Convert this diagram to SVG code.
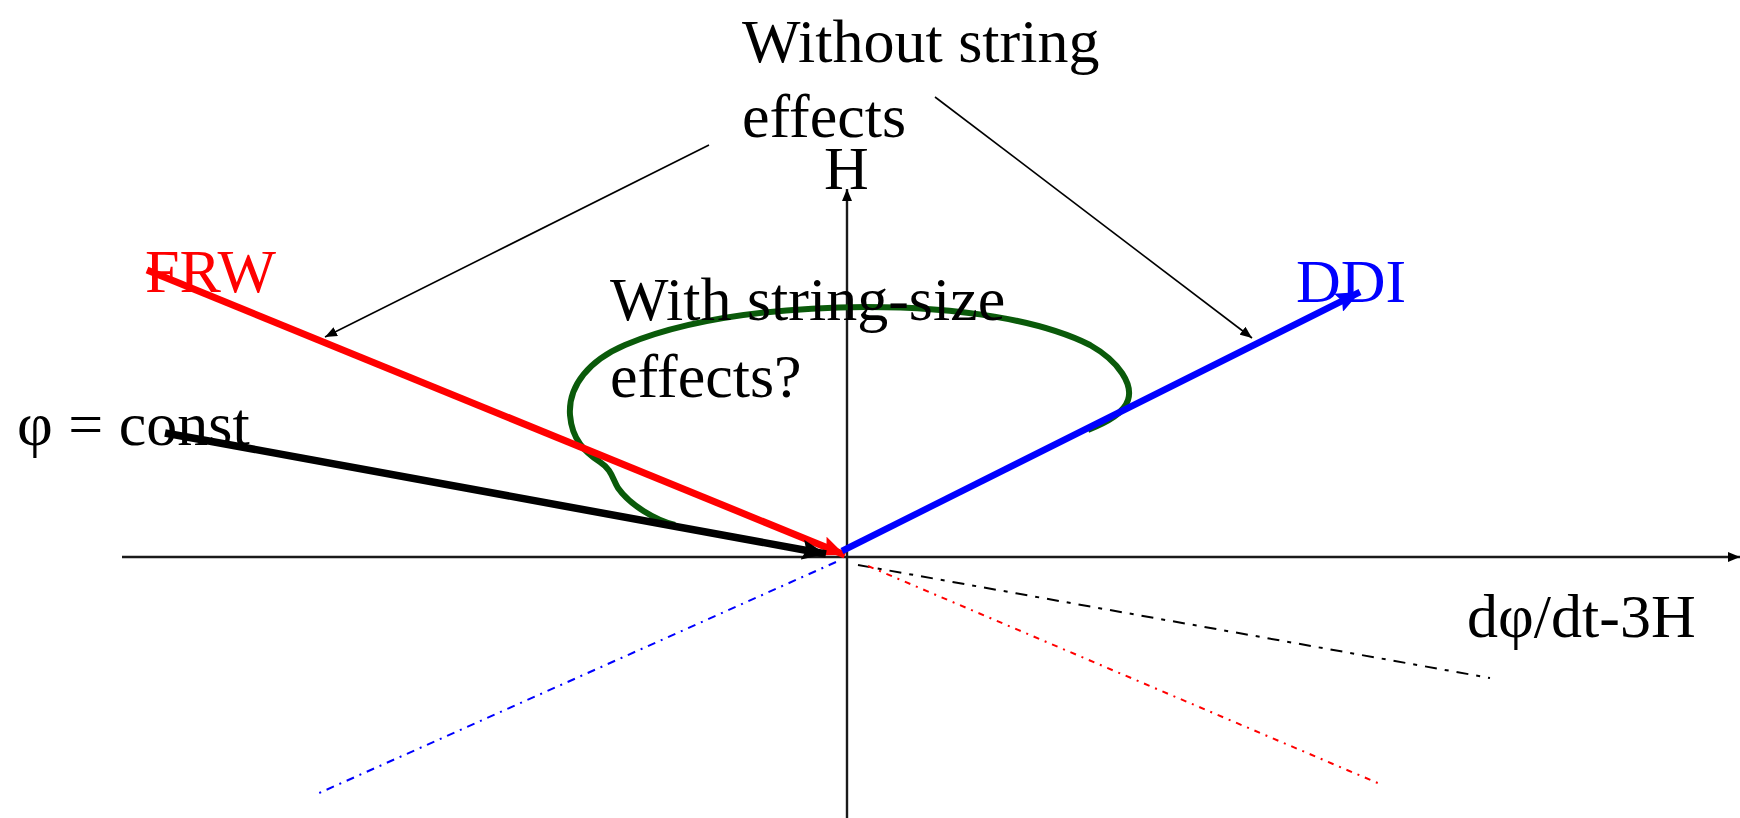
<svg xmlns="http://www.w3.org/2000/svg" width="1740" height="818" viewBox="0 0 1740 818">
<style>
text{font-family:"Liberation Serif","Times New Roman",serif;font-size:62px;fill:#000}
.red{fill:#ff0000}
.blue{fill:#0000ff}
.axis{stroke:#1a1a1a;stroke-width:2.4;fill:none}
.thin{stroke:#000;stroke-width:1.6;fill:none}
</style>
<defs>
<marker id="ah" viewBox="0 0 12 10" refX="12" refY="5" markerWidth="12" markerHeight="10" markerUnits="userSpaceOnUse" orient="auto"><path d="M0,0 L12,5 L0,10 Z" fill="#000"/></marker>
<marker id="ahR" viewBox="0 0 24 20" refX="24" refY="10" markerWidth="24" markerHeight="20" markerUnits="userSpaceOnUse" orient="auto"><path d="M0,0 L24,10 L0,20 L4,10 Z" fill="#ff0000"/></marker>
<marker id="ahK" viewBox="0 0 24 20" refX="24" refY="10" markerWidth="24" markerHeight="20" markerUnits="userSpaceOnUse" orient="auto"><path d="M0,0 L24,10 L0,20 L4,10 Z" fill="#000"/></marker>
<marker id="ahB" viewBox="0 0 24 20" refX="24" refY="10" markerWidth="24" markerHeight="20" markerUnits="userSpaceOnUse" orient="auto"><path d="M0,0 L24,10 L0,20 L4,10 Z" fill="#0000ff"/></marker>
</defs>
<g id="connectors">
<line class="axis" x1="122" y1="557" x2="1740" y2="557" marker-end="url(#ah)"/>
<line class="axis" x1="847" y1="818" x2="847" y2="189" marker-end="url(#ah)"/>
<line x1="836" y1="562" x2="317" y2="794" stroke="#0000ff" stroke-width="2" stroke-dasharray="8 6 2 6"/>
<line x1="858" y1="565" x2="1490" y2="678" stroke="#000" stroke-width="2" stroke-dasharray="12 8 4 8"/>
<line x1="868" y1="566" x2="1380" y2="784" stroke="#ff0000" stroke-width="2" stroke-dasharray="6 6 2 6"/>
<path d="M675,525 C655,520 630,505 618,488 C612,478 612,470 600,462 C585,452 572,440 570,415 C568,385 590,360 625,345 C680,322 760,308 866,307 C960,307 1040,320 1090,345 C1120,362 1133,385 1128,400 C1124,413 1108,422 1088,430" fill="none" stroke="#0a5a0a" stroke-width="6"/>
<line x1="147" y1="270" x2="845" y2="555" stroke="#ff0000" stroke-width="7" marker-end="url(#ahR)"/>
<line x1="165" y1="433" x2="826" y2="554" stroke="#000" stroke-width="7.5" marker-end="url(#ahK)"/>
<line x1="842" y1="551" x2="1360" y2="292" stroke="#0000ff" stroke-width="6.5" marker-end="url(#ahB)"/>
<line class="thin" x1="709" y1="145" x2="325" y2="337" marker-end="url(#ah)"/>
<line class="thin" x1="935" y1="97" x2="1252" y2="338" marker-end="url(#ah)"/>
</g>
<g id="label-without"><text x="742" y="62">Without string</text><text x="742" y="137">effects</text></g>
<g id="label-H"><text x="824" y="189">H</text></g>
<g id="label-FRW"><text class="red" x="145" y="292">FRW</text></g>
<g id="label-DDI"><text class="blue" x="1296" y="302">DDI</text></g>
<g id="label-with"><text x="610" y="320">With string-size</text><text x="610" y="397">effects?</text></g>
<g id="label-phi"><text x="17" y="445">φ = const</text></g>
<g id="label-xaxis"><text x="1467" y="637">dφ/dt-3H</text></g>
</svg>
